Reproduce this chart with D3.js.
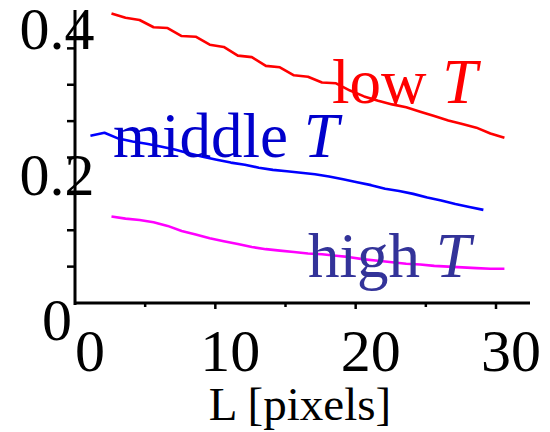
<!DOCTYPE html>
<html>
<head>
<meta charset="utf-8">
<script src="https://cdn.jsdelivr.net/npm/d3@7"></script>
<style>
  body { margin: 0; background: #fff; }
  svg { display: block; font-family: "Liberation Serif", "Times New Roman", serif; }
</style>
</head>
<body>
<svg id="chart"></svg>
<script>
const width = 550;
const height = 432;

// L values (pixels) for each curve
const lowL = [2.6, 3.6, 4.6, 5.6, 6.6, 7.6, 8.6, 9.6, 10.6, 11.6, 12.6, 13.6, 14.6, 15.6, 16.6,
    17.6, 18.6, 19.6, 20.6, 21.6, 22.6, 23.6, 24.6, 25.6, 26.6, 27.6, 28.6, 29.6, 30.6];
const midL = [1.1, 2.1, 3.1, 4.1, 5.1, 6.1, 7.1, 8.1, 9.1, 10.1, 11.1, 12.1, 13.1, 14.1, 15.1,
    16.1, 17.1, 18.1, 19.1, 20.1, 21.1, 22.1, 23.1, 24.1, 25.1, 26.1, 27.1, 28.1, 29.1];
const highL = lowL;

const lowT = [0.398, 0.392, 0.389, 0.379, 0.378, 0.367, 0.366, 0.355, 0.352, 0.340, 0.338, 0.326,
    0.324, 0.313, 0.311, 0.303, 0.302, 0.292, 0.284, 0.278, 0.273, 0.269, 0.263, 0.257, 0.251,
    0.246, 0.241, 0.233, 0.227];
const middleT = [0.230, 0.234, 0.226, 0.222, 0.219, 0.215, 0.211, 0.206, 0.201, 0.197, 0.193,
    0.190, 0.186, 0.183, 0.181, 0.179, 0.177, 0.174, 0.170, 0.166, 0.162, 0.157, 0.154, 0.150,
    0.145, 0.141, 0.136, 0.132, 0.128];
const highT = [0.119, 0.116, 0.114, 0.111, 0.106, 0.099, 0.094, 0.089, 0.085, 0.081, 0.077,
    0.074, 0.072, 0.070, 0.068, 0.067, 0.065, 0.063, 0.060, 0.058, 0.056, 0.054, 0.053, 0.051,
    0.050, 0.049, 0.048, 0.047, 0.047];

const xTicks = [0, 10, 20, 30];
const yTicks = [0, 0.2, 0.4];
const yTickLabels = ["0", "0.2", "0.4"];

const svg = d3.select("#chart").attr("width", width).attr("height", height);

const x = d3.scaleLinear().domain([0, 30]).range([75, 496]);
const y = d3.scaleLinear().domain([0, 0.4]).range([303, 12]);

// axes lines
svg.append("line")
    .attr("x1", x(0)).attr("x2", 530)
    .attr("y1", y(0)).attr("y2", y(0))
    .attr("stroke", "#000").attr("stroke-width", 3);
svg.append("line")
    .attr("x1", x(0)).attr("x2", x(0))
    .attr("y1", y(0) + 2).attr("y2", 10)
    .attr("stroke", "#000").attr("stroke-width", 3);

// x ticks (every 5, major every 10)
svg.selectAll("line.xt")
    .data(d3.range(5, 31, 5))
    .enter().append("line")
    .attr("x1", d => x(d)).attr("x2", d => x(d))
    .attr("y1", y(0)).attr("y2", d => y(0) + (d % 10 === 0 ? 6 : 4))
    .attr("stroke", "#000").attr("stroke-width", 2.5);

// y ticks (every 0.05)
svg.selectAll("line.yt")
    .data(d3.range(1, 8).map(d => d * 0.05))
    .enter().append("line")
    .attr("x1", x(0)).attr("x2", x(0) - 8)
    .attr("y1", d => y(d)).attr("y2", d => y(d))
    .attr("stroke", "#000").attr("stroke-width", 2.5);

// tick labels (offset as in the original export)
svg.selectAll("text.xl")
    .data(xTicks)
    .enter().append("text")
    .attr("x", d => x(d) + 15)
    .attr("y", 371)
    .attr("text-anchor", "middle")
    .attr("font-size", 60)
    .text(d => d);

svg.selectAll("text.yl")
    .data(yTicks)
    .enter().append("text")
    .attr("x", 57)
    .attr("y", d => y(d) + 37)
    .attr("text-anchor", "middle")
    .attr("font-size", 60)
    .text((d, i) => yTickLabels[i]);

svg.append("text")
    .attr("x", 300).attr("y", 420)
    .attr("text-anchor", "middle")
    .attr("font-size", 47)
    .text("L [pixels]");

// curves
const line = d3.line().x(d => x(d[0])).y(d => y(d[1]));
const series = [
    { l: lowL, v: lowT, color: "#ff0000" },
    { l: midL, v: middleT, color: "#0000ff" },
    { l: highL, v: highT, color: "#ff00ff" }
];
series.forEach(s => {
    svg.append("path")
        .datum(s.l.map((d, i) => [d, s.v[i]]))
        .attr("d", line)
        .attr("fill", "none")
        .attr("stroke", s.color)
        .attr("stroke-width", 2.6)
        .attr("stroke-linejoin", "round");
});

// curve labels
function curveLabel(px, py, word, color) {
    const t = svg.append("text")
        .attr("x", px).attr("y", py)
        .attr("font-size", 63)
        .attr("fill", color);
    t.append("tspan").text(word + " ");
    t.append("tspan").attr("font-style", "italic").text("T");
}
curveLabel(332, 103, "low", "#ff0000");
curveLabel(113, 157, "middle", "#0000cc");
curveLabel(308, 277, "high", "#333399");
</script>
</body>
</html>
